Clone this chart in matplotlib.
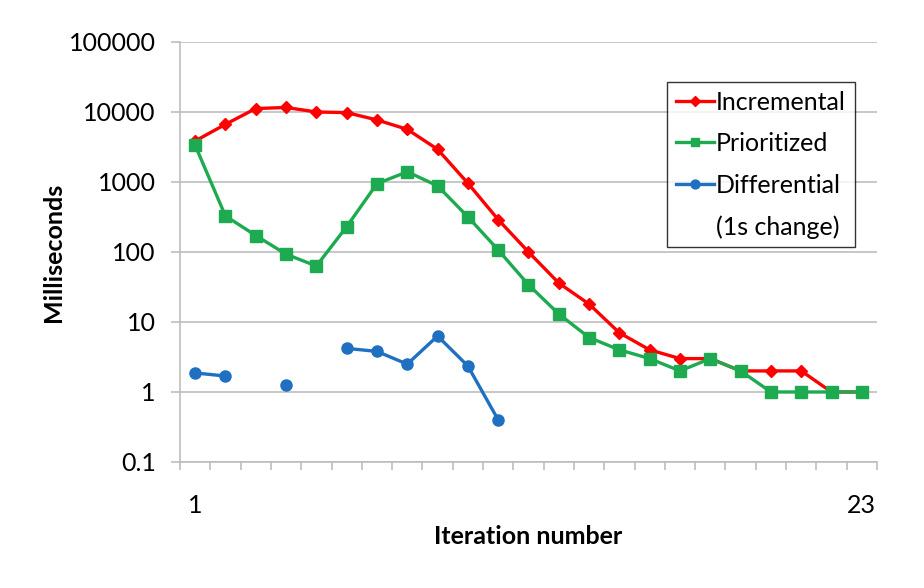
"""Convergence time per iteration: incremental vs prioritized vs differential."""

import matplotlib
matplotlib.use("Agg")
import matplotlib.pyplot as plt
import numpy as np
from matplotlib.lines import Line2D
from matplotlib.ticker import FixedLocator, NullFormatter

plt.rcParams["font.family"] = ["Lato", "DejaVu Sans"]

iterations = list(range(1, 24))

incremental = [3850, 6670, 11200, 11600, 10000, 9800, 7700, 5650, 2930, 960,
               290, 100, 36, 18, 7, 4, 3, 3, 2, 2, 2, 1, 1]
prioritized = [3340, 327, 172, 93, 63, 230, 945, 1400, 880, 318,
               107, 34, 13, 6, 4, 3, 2, 3, 2, 1, 1, 1, 1]
# gaps (None) are iterations with no value for the differential run
differential = [1.87, 1.69, None, 1.25, None, 4.2, 3.8, 2.5, 6.3, 2.35, 0.4]

y_ticks = [0.1, 1, 10, 100, 1000, 10000, 100000]
y_tick_labels = ["0.1", "1", "10", "100", "1000", "10000", "100000"]

RED = "#FF0000"
GREEN = "#1EAA50"
BLUE = "#1F70C1"
GRID = "#BDBDBD"

fig = plt.figure(figsize=(9.24, 5.88), dpi=100)
ax = fig.add_axes([0.1948, 0.2143, 0.7543, 0.7143])

diff_x = iterations[:len(differential)]
diff_y = np.array([np.nan if v is None else v for v in differential], dtype=float)

ax.plot(iterations, incremental, color=RED, lw=2.4, marker="D", ms=6.5,
        label="Incremental", zorder=3)
ax.plot(iterations, prioritized, color=GREEN, lw=2.4, marker="s", ms=8,
        label="Prioritized", zorder=4)
ax.plot(diff_x, diff_y, color=BLUE, lw=2.4, marker="o", ms=8,
        label="Differential", zorder=5)

ax.set_yscale("log")
ax.set_ylim(0.1, 100000)
ax.set_xlim(0.5, 23.5)

ax.yaxis.set_major_locator(FixedLocator(y_ticks))
ax.yaxis.set_minor_locator(FixedLocator([]))
ax.set_yticklabels(y_tick_labels)
ax.yaxis.set_minor_formatter(NullFormatter())
ax.tick_params(axis="y", which="major", length=6.5, width=1.2, color=GRID,
               pad=11, labelsize=18)
ax.grid(axis="y", color=GRID, lw=1.2)
ax.set_axisbelow(True)

ax.set_xticks([1, 23])
ax.set_xticklabels(["1", "23"])
ax.set_xticks(np.arange(0.5, 24, 1.0), minor=True)
ax.tick_params(axis="x", which="major", length=0, pad=23, labelsize=18)
ax.tick_params(axis="x", which="minor", length=6, width=1.2, color=GRID)

for side in ["top", "right"]:
    ax.spines[side].set_visible(False)
for side in ["left", "bottom"]:
    ax.spines[side].set_color(GRID)
    ax.spines[side].set_linewidth(1.2)

ax.set_xlabel("Iteration number", fontsize=18, fontweight="bold", labelpad=6)
ax.set_ylabel("Milliseconds", fontsize=18, fontweight="bold", labelpad=3)

handles, labels = ax.get_legend_handles_labels()
handles.append(Line2D([], [], linestyle="none"))
labels.append("(1s change)")
leg = ax.legend(handles, labels, loc="upper right", bbox_to_anchor=(0.968, 0.905),
                fontsize=18, frameon=True, fancybox=False, edgecolor="black",
                handlelength=1.5, handletextpad=0.1, labelspacing=0.74,
                borderpad=0.35, borderaxespad=0, markerscale=0.8)
leg.get_frame().set_linewidth(1.0)

fig.savefig("out.png", dpi=100)
